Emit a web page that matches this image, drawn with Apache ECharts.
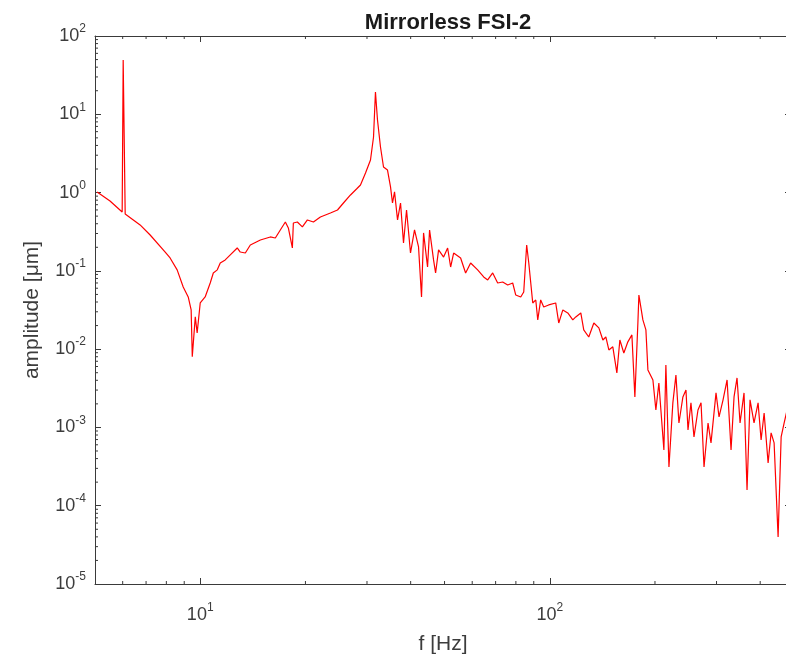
<!DOCTYPE html>
<html>
<head>
<meta charset="utf-8">
<title>Mirrorless FSI-2</title>
<script src="https://cdn.jsdelivr.net/npm/echarts@6/dist/echarts.min.js"></script>
<style>
html, body { margin: 0; padding: 0; overflow: hidden; background: #fff; }
#main { width: 800px; height: 661px; }
</style>
</head>
<body>
<div id="main"></div>
<script>
// spectrum: frequency [Hz] and amplitude [um]
var freqHz = [5.07, 5.52, 5.98, 6.02, 6.10, 6.73, 7.19, 7.94, 8.20, 8.59,
	8.94, 9.24, 9.42, 9.49, 9.68, 9.80, 10.0, 10.33, 10.68, 10.90,
	11.19, 11.41, 11.79, 12.19, 12.76, 13.02, 13.46, 13.91, 14.86, 15.87,
	16.40, 16.95, 17.52, 17.87, 18.35, 18.47, 18.96, 19.60, 20.26, 21.08,
	22.07, 23.58, 24.70, 25.69, 26.91, 28.0, 28.74, 29.71, 30.70, 31.32,
	31.72, 32.15, 32.79, 33.45, 34.34, 35.03, 35.49, 35.97, 36.69, 37.42,
	38.16, 38.93, 39.96, 41.03, 42.13, 42.97, 43.55, 44.71, 45.31, 46.51,
	47.14, 48.08, 49.69, 51.03, 52.05, 53.09, 55.59, 57.45, 59.38, 62.19,
	64.71, 66.44, 68.67, 70.96, 73.34, 75.81, 78.34, 79.91, 82.6, 84.25,
	85.9, 87.1, 89.4, 91.2, 92.4, 94.2, 96.1, 99.3, 104.0, 106.1,
	109.0, 112.6, 116.4, 118.7, 122.7, 125.1, 129.3, 133.7, 138.2, 141.9,
	144.7, 147.6, 151.5, 155.6, 158.7, 162.9, 167.3, 171.8, 175.2, 178.7,
	179.9, 184.7, 188.4, 190.9, 197.3, 201.2, 205.2, 212.1, 214.9, 219.3,
	225.0, 229.6, 234.2, 240.4, 245.3, 248.6, 253.5, 258.6, 265.5, 270.9,
	276.3, 283.7, 289.3, 299.0, 305.0, 313.2, 321.6, 330.1, 336.7, 343.4,
	350.3, 359.6, 366.8, 374.1, 384.1, 394.5, 402.4, 410.5, 421.4, 429.8,
	438.4, 450.1, 459.2, 468.4, 477.6, 486.0];

var amplitude = [1.02, 0.78, 0.565, 49.4, 0.533, 0.386, 0.287, 0.174, 0.146, 0.103,
	0.0623, 0.0464, 0.0317, 0.0080, 0.0258, 0.0161, 0.0389, 0.0464, 0.070, 0.094,
	0.103, 0.126, 0.138, 0.160, 0.196, 0.174, 0.169, 0.214, 0.248, 0.271,
	0.263, 0.333, 0.421, 0.353, 0.196, 0.409, 0.421, 0.364, 0.447, 0.421,
	0.488, 0.549, 0.599, 0.736, 0.932, 1.11, 1.25, 1.78, 2.61, 5.13,
	19.3, 8.46, 3.82, 2.12, 1.94, 1.18, 0.736, 1.02, 0.447, 0.736,
	0.227, 0.599, 0.169, 0.333, 0.202, 0.0464, 0.305, 0.112, 0.333, 0.138,
	0.094, 0.185, 0.150, 0.196, 0.112, 0.169, 0.146, 0.094, 0.126, 0.103,
	0.0836, 0.0765, 0.094, 0.070, 0.0721, 0.066, 0.070, 0.0492, 0.0464, 0.0538,
	0.214, 0.126, 0.0389, 0.0425, 0.0236, 0.0425, 0.0346, 0.0367, 0.0389, 0.0216,
	0.0317, 0.029, 0.0236, 0.0258, 0.029, 0.0176, 0.0143, 0.0216, 0.0187, 0.0131,
	0.0143, 0.00977, 0.0107, 0.00497, 0.0131, 0.00894, 0.0124, 0.0152, 0.00245, 0.0216,
	0.0492, 0.0236, 0.0176, 0.00543, 0.00404, 0.00167, 0.0037, 0.000516, 0.00628, 0.000313,
	0.00206, 0.00468, 0.00114, 0.00245, 0.00301, 0.00093, 0.00206, 0.000756, 0.00167, 0.00206,
	0.000313, 0.00114, 0.000634, 0.00276, 0.00136, 0.00225, 0.00404, 0.000516, 0.00245, 0.00429,
	0.00114, 0.00276, 0.000159, 0.00225, 0.00114, 0.00206, 0.000692, 0.00153, 0.000352, 0.000851,
	0.000634, 0.000040, 0.000756, 0.00114, 0.00167, 0.00120];

// axis ranges
var xMin = 5, xMax = 490;
var yMin = 1e-5, yMax = 100;

// minor tick positions (log axis, MATLAB style)
var xMinorTicks = [6, 7, 8, 9, 20, 30, 40, 50, 60, 70, 80, 90, 200, 300, 400];
var yDecades = [1e-5, 1e-4, 1e-3, 1e-2, 1e-1, 1, 10];
var yMultipliers = [2, 3, 4, 5, 6, 7, 8, 9];

var lineData = [];
for (var i = 0; i < freqHz.length; i++) {
	lineData.push([freqHz[i], amplitude[i]]);
}
var xMinorData = xMinorTicks.map(function(v) { return [v, 1]; });
var yMinorData = [];
yDecades.forEach(function(d) {
	yMultipliers.forEach(function(m) { yMinorData.push([10, +(d * m).toPrecision(3)]); });
});

var axisColor = '#3a3a3a';
var textColor = '#3c3c3c';
var fontFamily = 'Liberation Sans, Arial, Helvetica, sans-serif';

// 10^n labels with superscript
function powLabel(v) {
	var e = Math.log10(v);
	var n = Math.round(e);
	if (Math.abs(e - n) > 1e-6) return '';
	return '{b|10}{s|' + n + '}';
}
var labelRich = {
	b: { fontSize: 18, color: textColor, fontFamily: fontFamily },
	s: { fontSize: 12, color: textColor, fontFamily: fontFamily, padding: [0, 0, 14, 0] }
};

function tickLine(x1, y1, x2, y2) {
	return {
		type: 'line',
		shape: { x1: x1, y1: y1, x2: x2, y2: y2 },
		style: { stroke: axisColor, lineWidth: 1 }
	};
}

var myChart = echarts.init(document.getElementById('main'));

var option = {
	animation: false,
	backgroundColor: '#fff',
	title: {
		text: 'Mirrorless FSI-2',
		left: 443,
		top: 7,
		textAlign: 'center',
		textStyle: { fontSize: 22, fontWeight: 'bold', color: '#1a1a1a', fontFamily: fontFamily }
	},
	grid: { left: 95, right: 9, top: 36, bottom: 77 },
	xAxis: [{
		type: 'log',
		logBase: 10,
		min: xMin,
		max: xMax,
		name: 'f [Hz]',
		nameLocation: 'middle',
		nameGap: 50,
		nameTextStyle: { fontSize: 21, color: textColor, fontFamily: fontFamily },
		axisLine: { lineStyle: { color: axisColor, width: 1 } },
		axisTick: { inside: true, length: 6, lineStyle: { color: axisColor } },
		axisLabel: { margin: 18, formatter: powLabel, rich: labelRich },
		splitLine: { show: false }
	}, {
		type: 'log',
		logBase: 10,
		min: xMin,
		max: xMax,
		position: 'top',
		axisLine: { lineStyle: { color: axisColor, width: 1 } },
		axisTick: { inside: true, length: 6, lineStyle: { color: axisColor } },
		axisLabel: { show: false },
		splitLine: { show: false }
	}],
	yAxis: [{
		type: 'log',
		logBase: 10,
		min: yMin,
		max: yMax,
		name: 'amplitude [\u03bcm]',
		nameLocation: 'middle',
		nameGap: 52,
		nameTextStyle: { fontSize: 21, color: textColor, fontFamily: fontFamily },
		axisLine: { lineStyle: { color: axisColor, width: 1 } },
		axisTick: { inside: true, length: 6, lineStyle: { color: axisColor } },
		axisLabel: { margin: 9, formatter: powLabel, rich: labelRich },
		splitLine: { show: false }
	}, {
		type: 'log',
		logBase: 10,
		min: yMin,
		max: yMax,
		position: 'right',
		axisLine: { lineStyle: { color: axisColor, width: 1 } },
		axisTick: { inside: true, length: 6, lineStyle: { color: axisColor } },
		axisLabel: { show: false },
		splitLine: { show: false }
	}],
	series: [{
		type: 'line',
		data: lineData,
		showSymbol: false,
		symbol: 'none',
		lineStyle: { color: '#ff0000', width: 1.2 },
		silent: true
	}, {
		// minor ticks on bottom and top
		type: 'custom',
		silent: true,
		data: xMinorData,
		renderItem: function(params, api) {
			var b = api.coord([api.value(0), yMin]);
			var t = api.coord([api.value(0), yMax]);
			return {
				type: 'group',
				children: [tickLine(b[0], b[1], b[0], b[1] - 3), tickLine(t[0], t[1], t[0], t[1] + 3)]
			};
		}
	}, {
		// minor ticks on left and right
		type: 'custom',
		silent: true,
		data: yMinorData,
		renderItem: function(params, api) {
			var l = api.coord([xMin, api.value(1)]);
			var r = api.coord([xMax, api.value(1)]);
			return {
				type: 'group',
				children: [tickLine(l[0], l[1], l[0] + 3, l[1]), tickLine(r[0], r[1], r[0] - 3, r[1])]
			};
		}
	}]
};

myChart.setOption(option);
</script>
</body>
</html>
